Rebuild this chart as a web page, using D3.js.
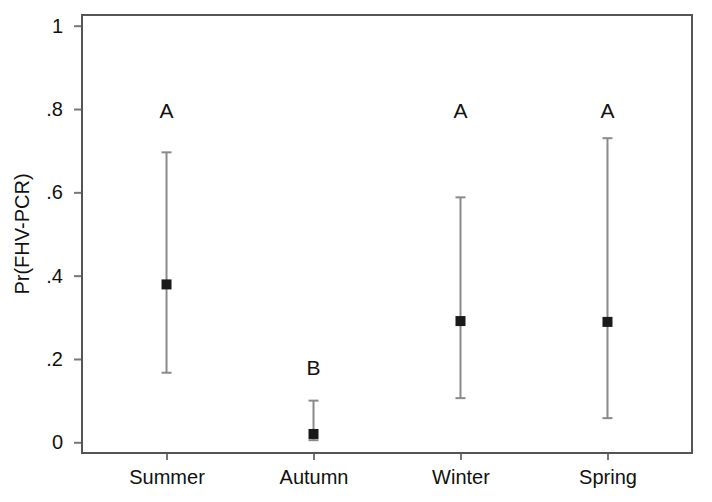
<!DOCTYPE html>
<html>
<head>
<meta charset="utf-8">
<script src="https://d3js.org/d3.v7.min.js"></script>
<style>
  body { margin: 0; background: #fff; }
  text { font-family: "Liberation Sans", Arial, sans-serif; fill: #111; }
</style>
</head>
<body>
<svg id="chart" width="712" height="502"></svg>
<script>
// seasons and estimated probabilities with 95% CI
var seasons = ["Summer", "Autumn", "Winter", "Spring"];
var est   = [0.379, 0.020, 0.291, 0.289];
var lower = [0.167, 0.005, 0.106, 0.058];
var upper = [0.696, 0.100, 0.588, 0.730];
var groups = ["A", "B", "A", "A"];
var groupY = [0.778, 0.162, 0.778, 0.778];
var yTicks = [0, 0.2, 0.4, 0.6, 0.8, 1];
var yTickLabels = ["0", ".2", ".4", ".6", ".8", "1"];

var margin = {top: 15, right: 20, bottom: 49, left: 82},
    width = 712 - margin.left - margin.right,
    height = 502 - margin.top - margin.bottom;

var svg = d3.select("#chart");
var chart = svg.append("g")
  .attr("transform", "translate(" + margin.left + "," + margin.top + ")");

var x = d3.scalePoint()
  .domain(seasons)
  .range([0, width])
  .padding(0.575);

var y = d3.scaleLinear()
  .domain([-0.0257, 1.0257])
  .range([height, 0]);

var data = seasons.map(function(s, i) {
  return {season: s, est: est[i], lo: lower[i], hi: upper[i], g: groups[i], gy: groupY[i]};
});

// axes
var yAxis = chart.append("g")
  .call(d3.axisLeft(y).tickValues(yTicks)
    .tickFormat(function(d, i) { return yTickLabels[i]; })
    .tickSize(8).tickPadding(11));
var xAxis = chart.append("g")
  .attr("transform", "translate(0," + height + ")")
  .call(d3.axisBottom(x).tickSize(7).tickPadding(10));

[yAxis, xAxis].forEach(function(a) {
  a.select(".domain").remove();
  a.selectAll("line").attr("stroke", "#777").attr("stroke-width", 2);
  a.selectAll("text").style("font-size", "20px").attr("fill", "#111");
});

// frame
chart.append("rect")
  .attr("x", 0).attr("y", 0)
  .attr("width", width).attr("height", height)
  .attr("fill", "none")
  .attr("stroke", "#555")
  .attr("stroke-width", 2);

// whiskers
var capW = 5;
var pts = chart.selectAll(".pt").data(data).enter().append("g").attr("class", "pt");
pts.append("line")
  .attr("x1", function(d) { return x(d.season); })
  .attr("x2", function(d) { return x(d.season); })
  .attr("y1", function(d) { return y(d.lo); })
  .attr("y2", function(d) { return y(d.hi); })
  .attr("stroke", "#8a8a8a").attr("stroke-width", 2);
pts.selectAll(".cap")
  .data(function(d) { return [{s: d.season, v: d.lo}, {s: d.season, v: d.hi}]; })
  .enter().append("line")
  .attr("class", "cap")
  .attr("x1", function(d) { return x(d.s) - capW; })
  .attr("x2", function(d) { return x(d.s) + capW; })
  .attr("y1", function(d) { return y(d.v); })
  .attr("y2", function(d) { return y(d.v); })
  .attr("stroke", "#8a8a8a").attr("stroke-width", 2);
pts.append("rect")
  .attr("x", function(d) { return x(d.season) - 5; })
  .attr("y", function(d) { return y(d.est) - 5; })
  .attr("width", 10).attr("height", 10)
  .attr("fill", "#1a1a1a");

// group letters
pts.append("text")
  .attr("x", function(d) { return x(d.season); })
  .attr("y", function(d) { return y(d.gy); })
  .attr("text-anchor", "middle")
  .style("font-size", "21px")
  .text(function(d) { return d.g; });

// y label
svg.append("text")
  .attr("transform", "translate(29," + (margin.top + height / 2) + ") rotate(-90)")
  .attr("text-anchor", "middle")
  .style("font-size", "20px")
  .text("Pr(FHV-PCR)");
</script>
</body>
</html>
